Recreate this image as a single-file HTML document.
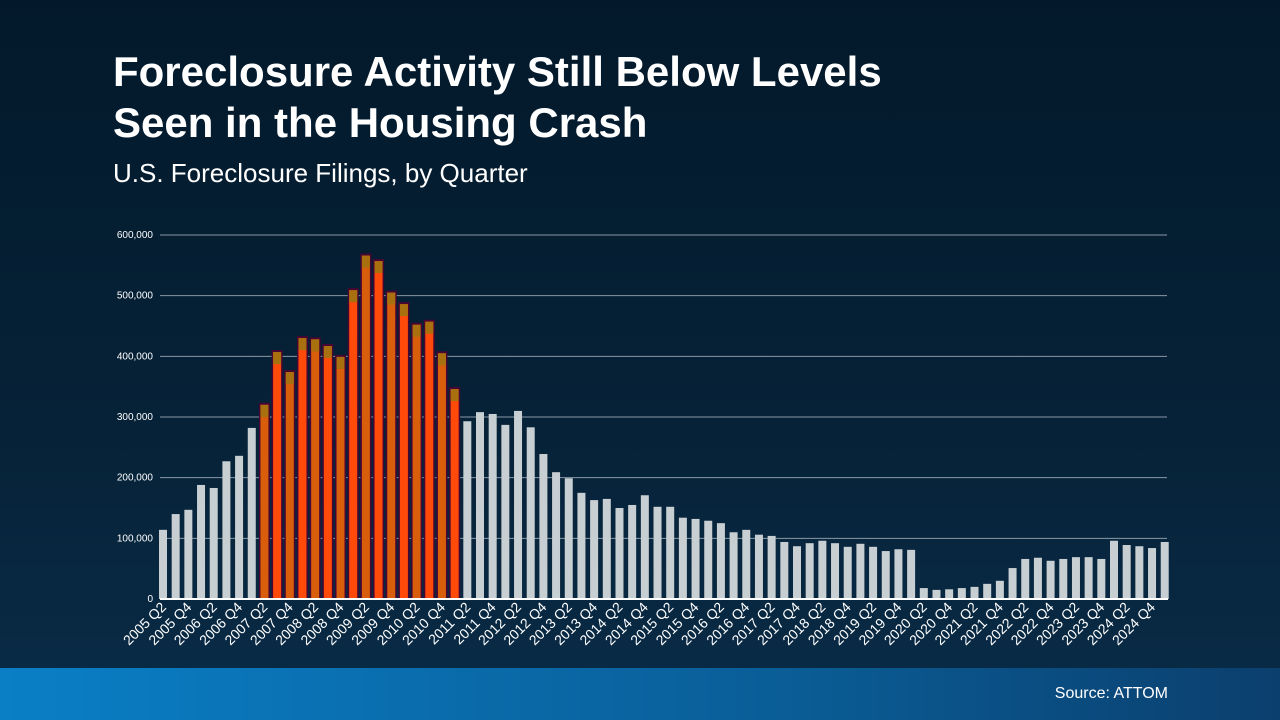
<!DOCTYPE html>
<html><head><meta charset="utf-8"><style>
body{margin:0;width:1280px;height:720px;overflow:hidden;font-family:"Liberation Sans",sans-serif;background:linear-gradient(180deg,#03192b 0%,#062238 60%,#0a2c48 100%);position:relative}
h1{position:absolute;left:113px;top:46px;margin:0;color:#fff;font-size:42px;line-height:51px;font-weight:bold}
.sub{position:absolute;left:113px;top:158px;color:#fff;font-size:26px}
.band{position:absolute;left:0;top:668px;width:1280px;height:52px;background:linear-gradient(90deg,#0a7fc6,#0a5e98 60%,#0b3f6e)}
.src{position:absolute;right:112px;top:685px;color:#fff;font-size:16px}
svg{position:absolute;left:0;top:0}
</style></head><body>
<h1>Foreclosure Activity Still Below Levels<br>Seen in the Housing Crash</h1>
<div class="sub">U.S. Foreclosure Filings, by Quarter</div>
<div class="band"></div>
<div class="src">Source: ATTOM</div>
<svg width="1280" height="720" id="s"></svg>
<script>
const v=[114,140,147,188,183,227,236,282,320,407,374,430,428,417,399,509,566,557,505,486,452,457,405,346,293,308,305,287,310,283,239,209,199,175,163,165,150,155,171,152,152,134,132,129,125,110,114,106,104,94,87,92,96,92,86,91,86,79,82,81,18,15,16,18,20,25,30,51,66,68,63,66,69,69,66,96,89,87,84,94];
let h='';const y0=599,k=60.67/100;
[0,100,200,300,400,500,600].forEach(t=>{const y=y0-t*k;if(t)h+=`<line x1="160" x2="1167" y1="${y}" y2="${y}" stroke="#8a98a6" stroke-width="1"/>`;h+=`<text x="153" y="${y+3}" fill="#fff" font-size="10" text-anchor="end">${t?t+',000':'0'}</text>`});
v.forEach((d,i)=>{const x=163+i*12.68,y=y0-d*k;
if(i>=8&&i<=23){h+=`<rect x="${x-5.5}" y="${y-2}" width="11" height="${y0-y+2}" fill="#4a0632"/><rect x="${x-4}" y="${y}" width="8" height="${y0-y}" fill="${i%2?'#ff4a0a':'#d85e0c'}"/><rect x="${x-4}" y="${y}" width="8" height="${Math.min(12,y0-y)}" fill="#a8700e"/>`}
else h+=`<rect x="${x-4}" y="${y}" width="8" height="${y0-y}" fill="#c8cfd2"/>`;
if(i%2==0&&i<79){const yr=2005+Math.floor((i+1)/4),q=(i+1)%4+1;h+=`<text transform="translate(${x+4},${y0+9}) rotate(-45)" fill="#fff" font-size="14" text-anchor="end">${yr} Q${q}</text>`}});
h+=`<line x1="160" x2="1168" y1="${y0}" y2="${y0}" stroke="#fff" stroke-width="2"/>`;
document.getElementById('s').innerHTML=h;
</script>
</body></html>
